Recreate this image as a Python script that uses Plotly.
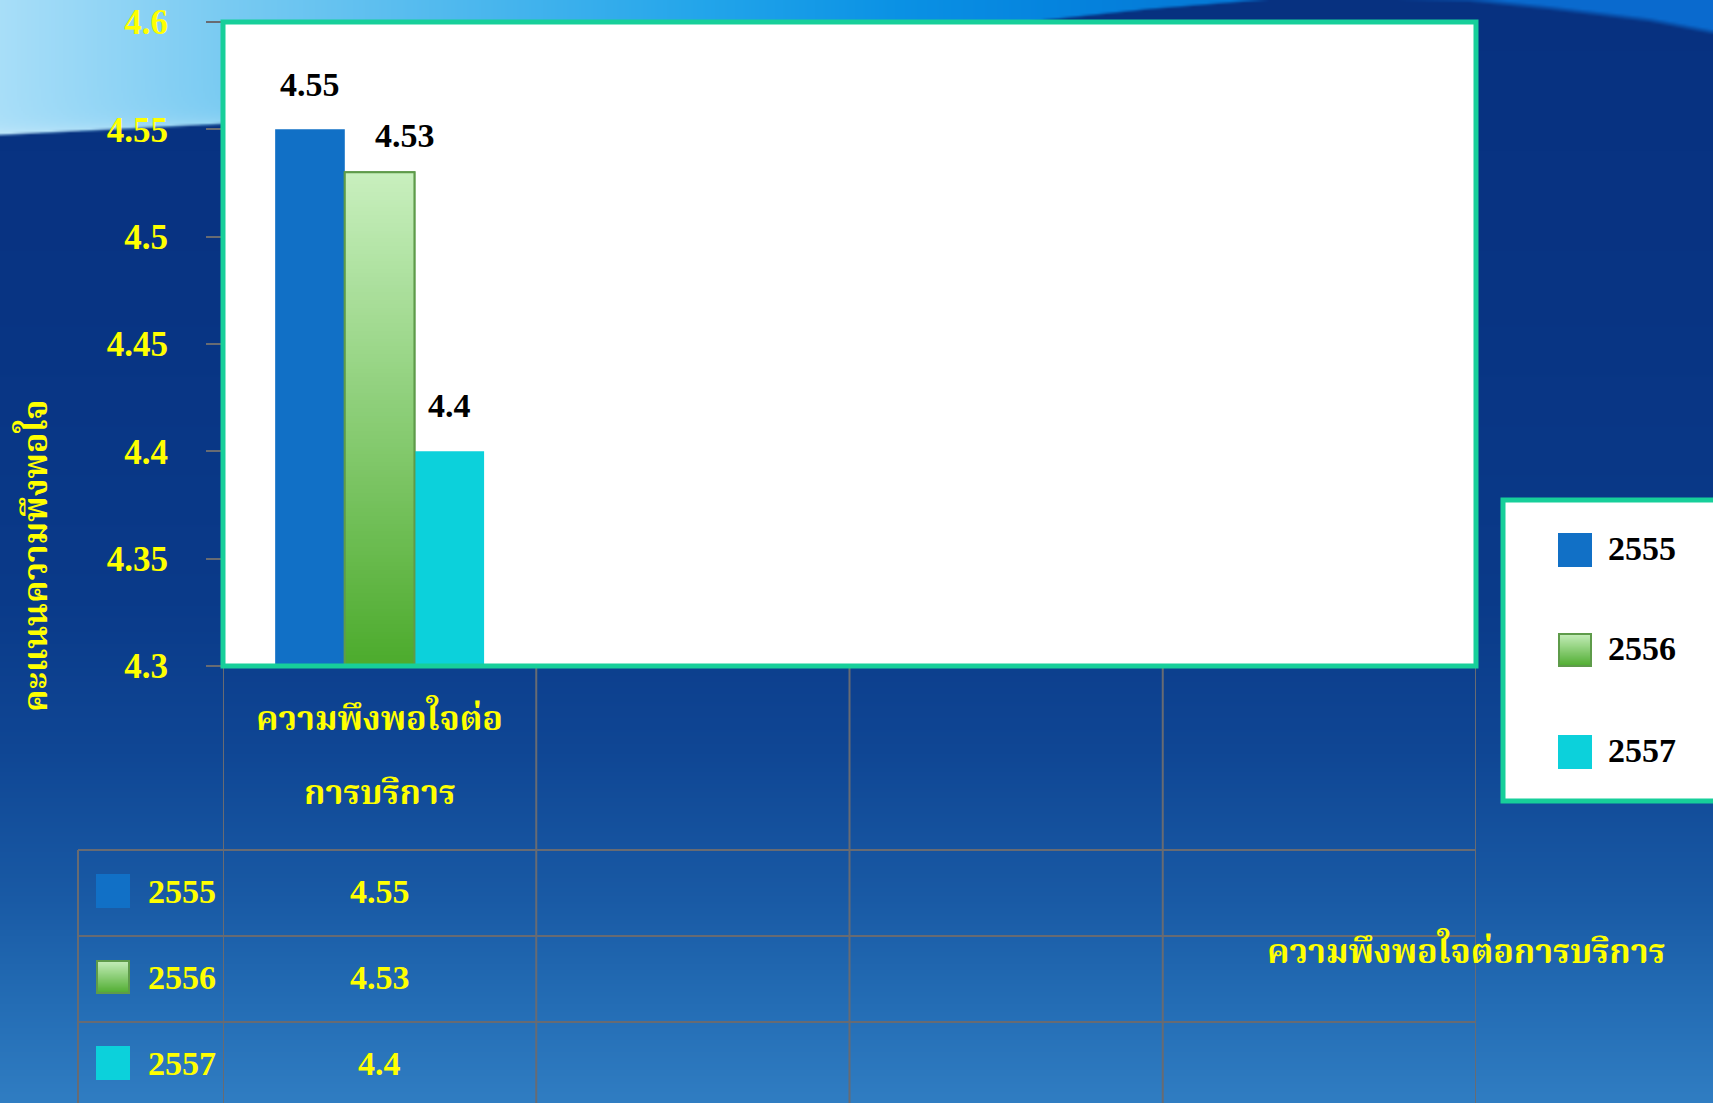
import base64
import struct
import zlib

import numpy as np
import plotly.graph_objects as go

# ---------------- data ----------------
category_lines = ["ความพึงพอใจต่อ", "การบริการ"]   # the single category, wrapped as in the chart
category_positions = [0]
category_slots = 4
series_names = ["2555", "2556", "2557"]
values_2555 = [4.55]
values_2556 = [4.53]
values_2557 = [4.4]
y_tick_values = [4.3, 4.35, 4.4, 4.45, 4.5, 4.55, 4.6]
y_tick_labels = ["4.3", "4.35", "4.4", "4.45", "4.5", "4.55", "4.6"]
y_axis_title = "คะแนนความพึงพอใจ"
x_axis_title = "ความพึงพอใจต่อการบริการ"

series_values = [values_2555, values_2556, values_2557]

# ---------------- style ----------------
W, H = 1713, 1103
PL, PR, PT, PB = 223, 1476, 22, 666        # plot box in pixels
BARGAP = 0.333
Y0, Y1 = 4.3, 4.6
colors = ["#1170C6", "#8ED07A", "#0CD1DB"]
green_line = "#5E9B4A"
teal = "#17CF9A"
grid_gray = "#686B72"
yellow = "#FFFF00"
NUM_FAMILY = "Liberation Serif, Times New Roman, serif"
THAI_FAMILY = "Noto Serif Thai, Noto Sans Thai, Loma, Garuda, Norasi, Liberation Serif, serif"
label_shift = [(0, 45), (25, 37), (0, 46)]  # value-label offsets (px)


def px(x):
    return (x - PL) / (PR - PL)


def py(y):
    return (PB - y) / (PB - PT)


def png_uri(arr):
    h, w, _ = arr.shape
    raw = b"".join(b"\x00" + arr[i].tobytes() for i in range(h))

    def chunk(t, d):
        return struct.pack(">I", len(d)) + t + d + struct.pack(">I", zlib.crc32(t + d) & 0xFFFFFFFF)

    data = (b"\x89PNG\r\n\x1a\n"
            + chunk(b"IHDR", struct.pack(">IIBBBBB", w, h, 8, 2, 0, 0, 0))
            + chunk(b"IDAT", zlib.compress(raw, 9))
            + chunk(b"IEND", b""))
    return "data:image/png;base64," + base64.b64encode(data).decode()


def background():
    s = 2
    h, w = (H + s - 1) // s, (W + s - 1) // s
    Y = (np.arange(h) + 0.5) * s
    X = (np.arange(w) + 0.5) * s
    dy = [0, 300, 600, 750, 900, 1000, 1103]
    dc = np.array([(7, 49, 128), (8, 52, 131), (10, 58, 137), (15, 70, 148),
                   (25, 90, 165), (35, 108, 180), (48, 125, 194)], float)
    dark = np.stack([np.interp(Y, dy, dc[:, k]) for k in range(3)], -1)[:, None, :]
    # sky-blue sweep at the top left
    lx = [0, 220, 450, 700, 900, 1050, 1263, 1713]
    lc = np.array([(168, 222, 248), (122, 203, 242), (80, 185, 238), (35, 165, 234),
                   (10, 145, 228), (5, 132, 222), (5, 118, 212), (5, 110, 205)], float)
    light = np.stack([np.interp(X, lx, lc[:, k]) for k in range(3)], -1)[None, :, :]
    bx = [0, 220, 500, 800, 1045, 1150, 1263, 1713]
    by = [135, 124, 100, 60, 20, 9, 0, -30]
    yb = np.interp(X, bx, by)
    dist = yb[None, :] - Y[:, None]
    a = np.clip(dist / 3 + 0.5, 0, 1)[..., None]
    glow = (np.exp(-np.clip(dist, 0, None) / 8.0) * (dist > 0) * 0.3
            * np.clip(1 - X / 900, 0, 1)[None, :])[..., None]
    light2 = light + (255 - light) * glow
    img = dark * (1 - a) + light2 * a
    # second brighter sweep at the top right
    bx2 = [0, 1470, 1550, 1650, 1713]
    by2 = [-40, 0, 8, 20, 32]
    yb2 = np.interp(X, bx2, by2)
    d2 = yb2[None, :] - Y[:, None]
    a2 = np.clip(d2 / 6 + 0.5, 0, 1)[..., None]
    c2 = np.array([10, 106, 206], float)
    img = img * (1 - a2) + c2 * a2
    return np.clip(np.round(img), 0, 255).astype(np.uint8)


def green_gradient():
    t = np.linspace(0, 1, 64)[:, None]
    top = np.array([200, 240, 190], float)
    bot = np.array([78, 172, 46], float)
    col = top * (1 - t) + bot * t
    return np.repeat(col[:, None, :], 4, axis=1).astype(np.uint8)


bg_uri = png_uri(background())
green_uri = png_uri(green_gradient())

fig = go.Figure()
for name, vals, col in zip(series_names, series_values, colors):
    fig.add_trace(go.Bar(
        x=category_positions, y=vals, name=name,
        marker=dict(color=col, line=dict(width=2 if name == "2556" else 0, color=green_line)),
        showlegend=False, hoverinfo="skip",
    ))

bar_w = (1 - BARGAP) / len(series_names)
offsets = [(i - (len(series_names) - 1) / 2) * bar_w for i in range(len(series_names))]

# white plot area (drawn over the background picture)
shapes = [dict(type="rect", xref="paper", yref="paper", x0=0, x1=1, y0=0, y1=1,
               fillcolor="white", line=dict(width=0), layer="below")]
images = [dict(source=bg_uri, xref="paper", yref="paper", x=px(0), y=py(0),
               sizex=W / (PR - PL), sizey=H / (PB - PT), xanchor="left", yanchor="top",
               sizing="stretch", layer="below")]
annotations = []

# gradient on the 2556 bar
for xc, v in zip(category_positions, values_2556):
    x0 = xc + offsets[1] - bar_w / 2
    images.append(dict(source=green_uri, xref="x", yref="y", x=x0, y=v, sizex=bar_w,
                       sizey=v - Y0, xanchor="left", yanchor="top", sizing="stretch", layer="above"))
    shapes.append(dict(type="rect", xref="x", yref="y", x0=x0, x1=x0 + bar_w, y0=Y0, y1=v,
                       line=dict(color=green_line, width=2), layer="above"))

# value labels above bars
for i, vals in enumerate(series_values):
    for xc, v in zip(category_positions, vals):
        annotations.append(dict(x=xc + offsets[i], y=v, xref="x", yref="y", text=str(v),
                                showarrow=False, xshift=label_shift[i][0], yshift=label_shift[i][1],
                                font=dict(family=NUM_FAMILY, size=34, color="black", weight="bold")))

# plot border
shapes.append(dict(type="rect", xref="paper", yref="paper", x0=0, x1=1, y0=0, y1=1,
                   line=dict(color=teal, width=5), layer="above"))

# ---- data table under the axis ----
row_lines = [850, 936, 1022]
row_centers = [891, 977, 1063]
table_left = 78
for k in range(category_slots + 1):
    xv = -0.5 + k
    shapes.append(dict(type="line", xref="x", yref="paper", x0=xv, x1=xv, y0=py(PB), y1=py(H + 10),
                       line=dict(color=grid_gray, width=2), layer="below"))
shapes.append(dict(type="line", xref="paper", yref="paper", x0=px(table_left), x1=px(table_left),
                   y0=py(row_lines[0]), y1=py(H + 10), line=dict(color=grid_gray, width=2), layer="below"))
for yl in row_lines:
    shapes.append(dict(type="line", xref="paper", yref="paper", x0=px(table_left), x1=1,
                       y0=py(yl), y1=py(yl), line=dict(color=grid_gray, width=2), layer="below"))

# category label (two lines)
for line, yc in zip(category_lines, [721, 795]):
    annotations.append(dict(x=category_positions[0], y=py(yc), xref="x", yref="paper", text=line,
                            showarrow=False, yanchor="middle",
                            font=dict(family=THAI_FAMILY, size=34, color=yellow, weight="bold")))


def swatch(x0, yc, i):
    y0p, y1p = py(yc + 17), py(yc - 17)
    if i == 1:
        images.append(dict(source=green_uri, xref="paper", yref="paper", x=px(x0), y=y1p,
                           sizex=px(x0 + 34) - px(x0), sizey=y1p - y0p, xanchor="left",
                           yanchor="top", sizing="stretch", layer="above"))
        shapes.append(dict(type="rect", xref="paper", yref="paper", x0=px(x0 + 1), x1=px(x0 + 33),
                           y0=py(yc + 16), y1=py(yc - 16), line=dict(color=green_line, width=2),
                           layer="above"))
    else:
        shapes.append(dict(type="rect", xref="paper", yref="paper", x0=px(x0), x1=px(x0 + 34),
                           y0=y0p, y1=y1p, fillcolor=colors[i], line=dict(width=0), layer="above"))


for i, (name, vals) in enumerate(zip(series_names, series_values)):
    swatch(96, row_centers[i], i)
    annotations.append(dict(x=px(146), y=py(row_centers[i]), xref="paper", yref="paper", text=name,
                            showarrow=False, xanchor="left", yanchor="middle",
                            font=dict(family=NUM_FAMILY, size=34, color=yellow, weight="bold")))
    for xc, v in zip(category_positions, vals):
        annotations.append(dict(x=xc, y=py(row_centers[i]), xref="x", yref="paper", text=str(v),
                                showarrow=False, yanchor="middle",
                                font=dict(family=NUM_FAMILY, size=34, color=yellow, weight="bold")))

# ---- legend panel ----
shapes.append(dict(type="rect", xref="paper", yref="paper", x0=px(1503), x1=px(1760),
                   y0=py(801), y1=py(500), fillcolor="white", line=dict(color=teal, width=5),
                   layer="below"))
legend_centers = [550, 650, 752]
for i, name in enumerate(series_names):
    swatch(1558, legend_centers[i], i)
    annotations.append(dict(x=px(1606), y=py(legend_centers[i] - 2), xref="paper", yref="paper",
                            text=name, showarrow=False, xanchor="left", yanchor="middle",
                            font=dict(family=NUM_FAMILY, size=34, color="black", weight="bold")))

# axis titles
annotations.append(dict(x=px(38), y=py(556), xref="paper", yref="paper", text=y_axis_title,
                        showarrow=False, textangle=-90, xanchor="center", yanchor="middle",
                        font=dict(family=THAI_FAMILY, size=34, color=yellow, weight="bold")))
annotations.append(dict(x=px(1466), y=py(954), xref="paper", yref="paper", text=x_axis_title,
                        showarrow=False, xanchor="center", yanchor="middle",
                        font=dict(family=THAI_FAMILY, size=34, color=yellow, weight="bold")))

fig.update_layout(
    width=W, height=H, autosize=False,
    margin=dict(l=PL, r=W - PR, t=PT, b=H - PB, pad=0, autoexpand=False),
    paper_bgcolor="#0A3A88", plot_bgcolor="white",
    barmode="group", bargap=BARGAP, bargroupgap=0,
    showlegend=False,
    shapes=shapes, images=images, annotations=annotations,
    xaxis=dict(range=[-0.5, category_slots - 0.5], showticklabels=False, showgrid=False,
               zeroline=False, showline=False, ticks="", fixedrange=True, automargin=False),
    yaxis=dict(range=[Y0, Y1], tickvals=y_tick_values, ticktext=y_tick_labels,
               showgrid=False, zeroline=False, showline=True, linecolor=grid_gray, linewidth=2,
               ticks="outside", ticklen=15, tickwidth=2, tickcolor=grid_gray,
               ticklabelstandoff=31, automargin=False,
               tickfont=dict(family=NUM_FAMILY, size=35, color=yellow, weight="bold"),
               fixedrange=True),
)

fig.write_html("out.html")
